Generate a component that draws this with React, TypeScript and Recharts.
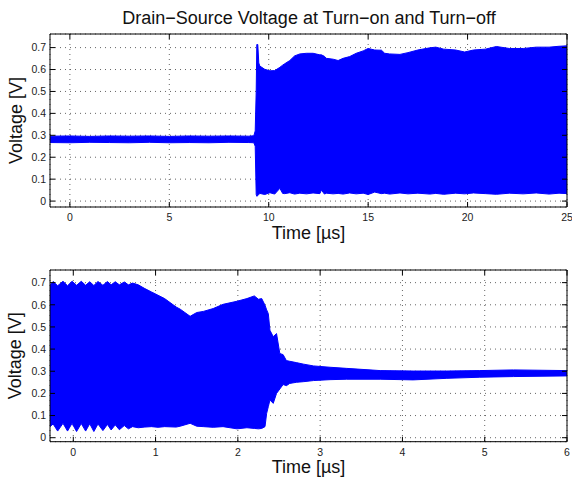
import React from "react";
import { AreaChart, Area, XAxis, YAxis, CartesianGrid, ReferenceArea } from "recharts";

// ---------- Data (envelope of the oscillating signal) ----------
const title = "Drain\u2212Source Voltage at Turn\u2212on and Turn\u2212off";
const xLabel = "Time [\u00b5s]";
const yLabel = "Voltage [V]";

// Turn-on (top)
const onTime = [
  -1, 0, 1, 2, 3, 4, 5, 6, 7, 8, 9, 9.25, 9.32, 9.37, 9.4, 9.45, 9.5, 9.55, 9.8, 10.06, 10.3,
  10.56, 10.7, 10.8, 11.06, 11.3, 11.56, 11.9, 12.23, 12.57, 12.65, 12.8, 12.9, 13.24, 13.49,
  13.74, 14.07, 14.4, 14.75, 15.0, 15.33, 15.67, 15.83, 16.08, 16.6, 17.0, 17.5, 18.1, 18.4,
  18.8, 19.4, 19.85, 20.3, 20.9, 21.45, 22.1, 22.8, 23.45, 24.1, 24.6, 25,
];
const onHigh = [
  0.296, 0.297, 0.295, 0.297, 0.296, 0.297, 0.295, 0.297, 0.296, 0.297, 0.296, 0.298, 0.32, 0.5,
  0.714, 0.714, 0.63, 0.616, 0.601, 0.594, 0.595, 0.61, 0.62, 0.626, 0.641, 0.662, 0.671, 0.674,
  0.674, 0.667, 0.667, 0.66, 0.651, 0.647, 0.641, 0.651, 0.659, 0.674, 0.685, 0.696, 0.689,
  0.688, 0.674, 0.671, 0.669, 0.677, 0.689, 0.699, 0.702, 0.693, 0.689, 0.68, 0.689, 0.693,
  0.705, 0.696, 0.696, 0.702, 0.702, 0.706, 0.708,
];
const onLow = [
  0.267, 0.266, 0.268, 0.267, 0.266, 0.268, 0.266, 0.267, 0.266, 0.268, 0.267, 0.266, 0.25, 0.03,
  0.022, 0.025, 0.03, 0.035, 0.03, 0.038, 0.032, 0.058, 0.035, 0.034, 0.038, 0.032, 0.036, 0.033,
  0.037, 0.034, 0.05, 0.032, 0.036, 0.033, 0.035, 0.032, 0.037, 0.033, 0.036, 0.03, 0.041,
  0.034, 0.036, 0.032, 0.037, 0.033, 0.036, 0.032, 0.035, 0.031, 0.036, 0.033, 0.037, 0.034,
  0.031, 0.036, 0.033, 0.037, 0.032, 0.036, 0.034,
];

// Turn-off (bottom)
const offTime = [
  -0.283, -0.245, -0.19, -0.125, -0.07, -0.015, 0.04, 0.097, 0.15, 0.2, 0.25, 0.3, 0.36, 0.415,
  0.46, 0.51, 0.56, 0.62, 0.67, 0.72, 0.79, 0.87, 0.95, 1.03, 1.11, 1.25, 1.3, 1.42, 1.5, 1.58,
  1.7, 1.82, 1.99, 2.11, 2.2, 2.25, 2.29, 2.33, 2.35, 2.37, 2.39, 2.43, 2.47, 2.51, 2.55, 2.59,
  2.63, 2.71, 2.8, 2.92, 3.12, 3.32, 3.73, 4.13, 4.54, 4.94, 5.35, 6,
];
const offHigh = [
  0.69, 0.705, 0.686, 0.706, 0.686, 0.706, 0.688, 0.706, 0.688, 0.704, 0.687, 0.705, 0.688,
  0.705, 0.69, 0.704, 0.69, 0.703, 0.69, 0.698, 0.69, 0.673, 0.658, 0.643, 0.628, 0.59, 0.58,
  0.548, 0.565, 0.57, 0.583, 0.602, 0.616, 0.628, 0.64, 0.625, 0.628, 0.598, 0.577, 0.56, 0.485,
  0.456, 0.47, 0.38, 0.375, 0.348, 0.345, 0.339, 0.332, 0.324, 0.318, 0.313, 0.303, 0.301, 0.301,
  0.303, 0.306, 0.303,
];
const offLow = [
  0.05, 0.062, 0.03, 0.065, 0.03, 0.065, 0.028, 0.064, 0.03, 0.063, 0.028, 0.062, 0.032, 0.06,
  0.035, 0.058, 0.036, 0.055, 0.04, 0.05, 0.045, 0.048, 0.05, 0.047, 0.05, 0.048, 0.052, 0.065,
  0.052, 0.05, 0.047, 0.05, 0.04, 0.045, 0.042, 0.04, 0.042, 0.05, 0.11, 0.14, 0.17, 0.155, 0.2,
  0.22, 0.24, 0.235, 0.245, 0.25, 0.253, 0.258, 0.262, 0.264, 0.264, 0.261, 0.268, 0.273, 0.276,
  0.279,
];

const onXTicks = [0, 5, 10, 15, 20, 25];
const offXTicks = [0, 1, 2, 3, 4, 5, 6];
const yTicks = [0, 0.1, 0.2, 0.3, 0.4, 0.5, 0.6, 0.7];

const onXDomain = [-1, 25];
const onYDomain = [-0.027, 0.762];
const offXDomain = [-0.283, 6];
const offYDomain = [-0.018, 0.757];

// ---------- Styling / layout ----------
const FONT = "'Liberation Sans', Arial, Helvetica, sans-serif";
const W = 572;
const BLUE = "#0000ff";
const TICK_LEN = 5;

type Layout = { top: number; bottom: number; left: number; right: number; height: number };

const makeXTick = (lay: Layout) => (props: any) => {
  const { x, y, payload } = props;
  return (
    <g>
      <text x={x} y={y} dy="0.71em" textAnchor="middle" fontSize={10.5} fontFamily={FONT} fill="#222">
        {String(payload.value)}
      </text>
      <line x1={x} x2={x} y1={lay.bottom} y2={lay.bottom - TICK_LEN} stroke="#000" strokeWidth={1} />
      <line x1={x} x2={x} y1={lay.top} y2={lay.top + TICK_LEN} stroke="#000" strokeWidth={1} />
    </g>
  );
};

const makeYTick = (lay: Layout) => (props: any) => {
  const { x, y, payload } = props;
  return (
    <g>
      <text x={x} y={y} dy="0.355em" textAnchor="end" fontSize={10.5} fontFamily={FONT} fill="#222">
        {String(payload.value)}
      </text>
      <line x1={lay.left} x2={lay.left + TICK_LEN} y1={y} y2={y} stroke="#000" strokeWidth={1} />
      <line x1={W - lay.right} x2={W - lay.right - TICK_LEN} y1={y} y2={y} stroke="#000" strokeWidth={1} />
    </g>
  );
};

function Panel(props: {
  time: number[];
  high: number[];
  low: number[];
  xTicks: number[];
  xDomain: number[];
  yDomain: number[];
  lay: Layout;
}) {
  const { time, high, low, xTicks, xDomain, yDomain, lay } = props;
  const data = time.map((t, i) => ({ t, range: [low[i], high[i]] }));
  const xAxisH = 30;
  const plotBottomMargin = lay.height - lay.bottom - xAxisH;
  return (
    <AreaChart
      width={W}
      height={lay.height}
      data={data}
      margin={{ top: lay.top, right: lay.right, bottom: plotBottomMargin, left: 0 }}
    >
      <CartesianGrid stroke="#555" strokeDasharray="1 4" strokeWidth={0.9} />
      <XAxis
        dataKey="t"
        type="number"
        domain={xDomain}
        allowDataOverflow
        ticks={xTicks}
        interval={0}
        height={xAxisH}
        tickSize={0}
        tickMargin={7}
        axisLine={false}
        tickLine={false}
        tick={makeXTick(lay)}
      />
      <YAxis
        type="number"
        domain={yDomain}
        allowDataOverflow
        ticks={yTicks}
        interval={0}
        width={lay.left}
        tickSize={0}
        tickMargin={4}
        axisLine={false}
        tickLine={false}
        tick={makeYTick(lay)}
      />
      <Area
        type="linear"
        dataKey="range"
        stroke={BLUE}
        strokeWidth={1}
        fill={BLUE}
        fillOpacity={1}
        dot={false}
        activeDot={false}
        isAnimationActive={false}
      />
      <ReferenceArea
        x1={xDomain[0]}
        x2={xDomain[1]}
        y1={yDomain[0]}
        y2={yDomain[1]}
        stroke="#000"
        strokeWidth={1}
        fill="none"
        fillOpacity={0}
        ifOverflow="visible"
      />
    </AreaChart>
  );
}

export default function App() {
  const topLay: Layout = { top: 34, bottom: 207, left: 50, right: 5, height: 245 };
  const botLay: Layout = { top: 30, bottom: 201.7, left: 50, right: 5, height: 240 };
  const labelStyle = { fontFamily: FONT, fontSize: 18, fill: "#111" } as const;
  return (
    <div style={{ position: "absolute", left: 0, top: 0, width: W, height: 482, background: "#fff" }}>
      <div style={{ position: "absolute", left: 0, top: 0 }}>
        <Panel time={onTime} high={onHigh} low={onLow} xTicks={onXTicks} xDomain={onXDomain} yDomain={onYDomain} lay={topLay} />
      </div>
      <div style={{ position: "absolute", left: 0, top: 240 }}>
        <Panel time={offTime} high={offHigh} low={offLow} xTicks={offXTicks} xDomain={offXDomain} yDomain={offYDomain} lay={botLay} />
      </div>
      <svg width={W} height={482} style={{ position: "absolute", left: 0, top: 0, pointerEvents: "none" }}>
        <text x={309} y={24} textAnchor="middle" {...labelStyle}>{title}</text>
        <text x={308.5} y={239} textAnchor="middle" {...labelStyle}>{xLabel}</text>
        <text x={308.5} y={473} textAnchor="middle" {...labelStyle}>{xLabel}</text>
        <text x={21.5} y={120.5} textAnchor="middle" transform="rotate(-90 21.5 120.5)" {...labelStyle}>{yLabel}</text>
        <text x={21.5} y={355.8} textAnchor="middle" transform="rotate(-90 21.5 355.8)" {...labelStyle}>{yLabel}</text>
      </svg>
    </div>
  );
}
